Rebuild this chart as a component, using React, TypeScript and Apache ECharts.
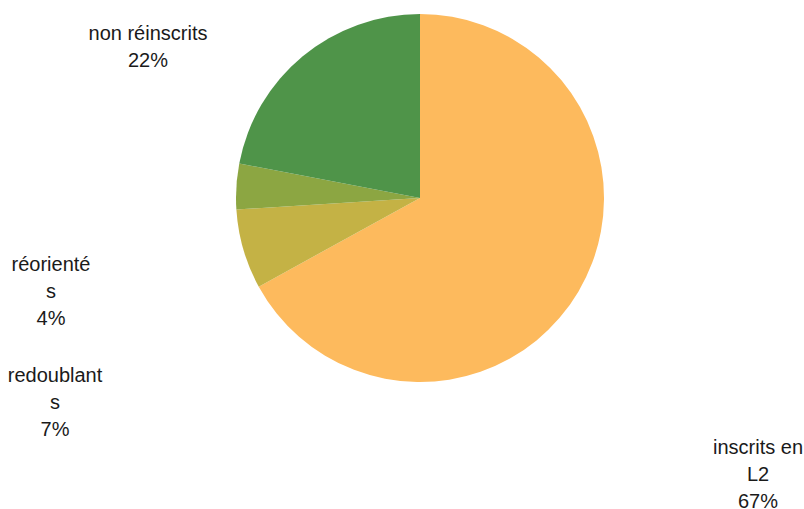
import React, { useEffect, useRef } from "react";
import * as echarts from "echarts";

const categories = ["inscrits en L2", "redoublants", "réorientés", "non réinscrits"];
const values = [67, 7, 4, 22];
const labelTexts = ["inscrits en\nL2\n67%", "redoublant\ns\n7%", "réorienté\ns\n4%", "non réinscrits\n22%"];

const colors = ["#FDBA5D", "#C4B245", "#8CA642", "#4F9449"];
const labelPos = [
  [758, 474],
  [55, 402],
  [51, 291],
  [148, 46],
];

export default function App() {
  const ref = useRef<HTMLDivElement>(null);
  useEffect(() => {
    if (!ref.current) return;
    const chart = echarts.init(ref.current, undefined, { renderer: "svg" });
    chart.setOption({
      animation: false,
      backgroundColor: "#ffffff",
      series: [
        {
          type: "pie",
          center: [420, 198],
          radius: [0, 184],
          startAngle: 90,
          clockwise: true,
          data: categories.map((c, i) => ({
            name: c,
            value: values[i],
            itemStyle: { color: colors[i] },
            label: { formatter: labelTexts[i] },
          })),
          label: {
            show: true,
            position: "outside",
            fontFamily: "'Liberation Sans', Arial, sans-serif",
            fontSize: 20,
            lineHeight: 27,
            color: "#1a1a1a",
            align: "center",
          },
          labelLine: { show: false },
          labelLayout: (params: any) => {
            const p = labelPos[params.dataIndex];
            return { x: p[0], y: p[1], align: "center", verticalAlign: "middle" };
          },
          emphasis: { disabled: true },
        },
      ],
    });
    return () => chart.dispose();
  }, []);
  return (
    <div
      ref={ref}
      style={{ position: "absolute", left: 0, top: 0, width: 804, height: 509 }}
    />
  );
}
